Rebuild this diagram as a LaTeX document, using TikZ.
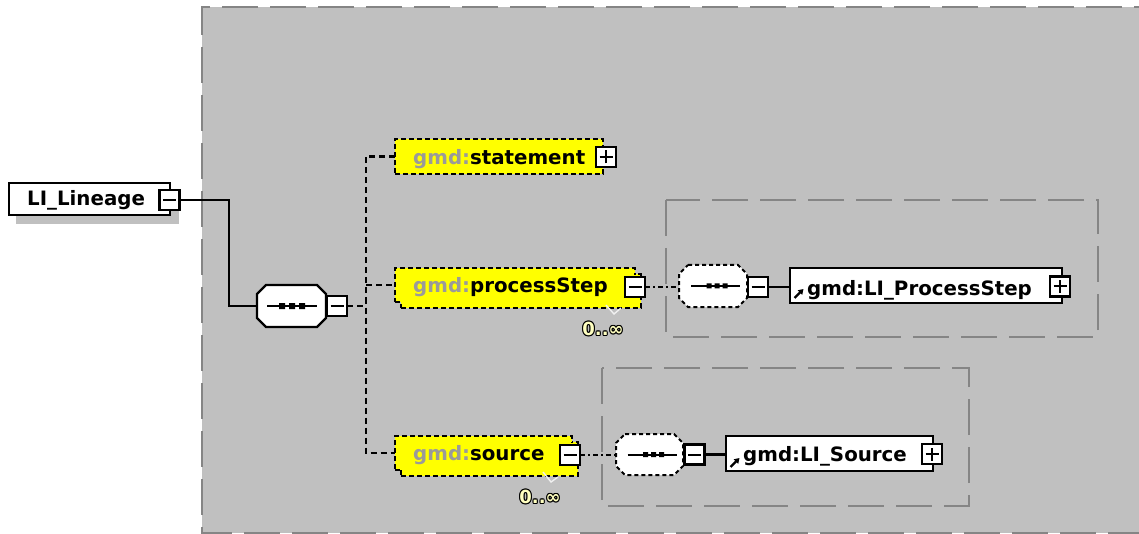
\documentclass[tikz,border=0pt]{standalone}
\usepackage{fontspec}
\newfontfamily\dv{DejaVu Sans}
\usetikzlibrary{calc,arrows.meta}
\definecolor{bggray}{HTML}{C0C0C0}
\definecolor{grpgray}{HTML}{858585}
\definecolor{gmdgray}{HTML}{9A9A9A}
\definecolor{elyellow}{HTML}{FFFF00}
\definecolor{cardyellow}{HTML}{FFFFC0}
\definecolor{markwhite}{HTML}{F0F0F0}
\newcommand\seqoct[3]{%
  \draw[#1] ($(#2.north west)+(#3,0)$) -- ($(#2.north east)+(-#3,0)$) -- ($(#2.north east)+(0,#3)$) -- ($(#2.south east)+(0,-#3)$) -- ($(#2.south east)+(-#3,0)$) -- ($(#2.south west)+(#3,0)$) -- ($(#2.south west)+(0,-#3)$) -- ($(#2.north west)+(0,#3)$) -- cycle;}
\newcommand\outlinedtext[1]{\leavevmode\rlap{\color{black}\raisebox{1pt}{#1}}\rlap{\color{black}\raisebox{-1pt}{#1}}\rlap{\color{black}\hspace{1pt}#1}\rlap{\color{black}\hspace{-1pt}#1}\rlap{\color{black}\hspace{0.7pt}\raisebox{0.7pt}{#1}}\rlap{\color{black}\hspace{-0.7pt}\raisebox{-0.7pt}{#1}}\rlap{\color{black}\hspace{0.7pt}\raisebox{-0.7pt}{#1}}\rlap{\color{black}\hspace{-0.7pt}\raisebox{0.7pt}{#1}}{\color{cardyellow}#1}}
\tikzset{
  boxbase/.style={rectangle, inner sep=0pt, outer sep=0pt},
  typebox/.style={boxbase, draw=black, line width=2.4pt, fill=white},
  optbox/.style={boxbase, draw=black, line width=2.2pt, dash pattern=on 5pt off 3pt, fill=elyellow},
  togglebox/.style={boxbase, draw=black, line width=2.3pt, fill=white, minimum width=20pt, minimum height=20pt},
  minusbox/.style={togglebox, path picture={\draw[line width=2pt] ([xshift=-6.5pt]path picture bounding box.center) -- ([xshift=6.5pt]path picture bounding box.center);}},
  plusbox/.style={togglebox, path picture={\draw[line width=2pt] ([xshift=-6.5pt]path picture bounding box.center) -- ([xshift=6.5pt]path picture bounding box.center) ([yshift=-6.5pt]path picture bounding box.center) -- ([yshift=6.5pt]path picture bounding box.center);}},
  grpbox/.style={draw=grpgray, line width=2.2pt, dash pattern=on 36pt off 12pt},
  solidconn/.style={draw=black, line width=2.2pt},
  dashconn/.style={draw=black, line width=2.1pt, dash pattern=on 6pt off 4pt},
  dotconn/.style={draw=black, line width=2pt, dash pattern=on 5pt off 3pt on 2pt off 3pt},
  eltext/.style={font=\dv\bfseries\fontsize{19.8}{20}\selectfont, inner sep=0pt, anchor=base west},
  cardtext/.style={font=\dv\bfseries\fontsize{18}{18}\selectfont, inner sep=0pt},
  iconarrow/.style={line width=2.2pt, -{Triangle[length=5pt,width=6pt]}},
}
\begin{document}
\begin{tikzpicture}[x=1pt,y=-1pt]
\fill[white] (0,0) rectangle (1139,534);
\useasboundingbox (0,0) rectangle (1139,534);
% background group
\fill[bggray] (202,7) rectangle (1170,533);
\draw[grpbox] (1170,7) -- (202,7) -- (202,533) -- (1170,533);
\draw[grpbox] (666,200) rectangle (1098,337);
\draw[grpbox] (602,368) rectangle (969,506);

% LI_Lineage
\fill[bggray] (16,190) rectangle (179,224);
\node[typebox, minimum width=161pt, minimum height=32pt] (lin) at (89.5,199) {};
\node[eltext] (lintxt) at (27,206) {LI\_Lineage};
\node[minusbox] (linm) at (169.5,200) {};

% sequence 1
\node[boxbase, minimum width=69pt, minimum height=42pt] (seq1) at (291.5,306) {};
\seqoct{fill=white, draw=black, line width=2.3pt}{seq1}{9}
\draw[line width=2pt] ($(seq1.center)+(-24.5,0)$) -- ($(seq1.center)+(25.5,0)$);
\fill ($(seq1.center)+(-12.5,-3)$) rectangle +(6,6) ($(seq1.center)+(-2.5,-3)$) rectangle +(6,6) ($(seq1.center)+(7.5,-3)$) rectangle +(6,6);
\node[minusbox] (seq1m) at (337,306) {};

% statement
\node[optbox, minimum width=208pt, minimum height=35pt] (stmt) at (499,156.5) {};
\node[eltext] (stmttxt) at (413,165) {\textcolor{gmdgray}{gmd:}statement};
\node[plusbox] (stmtp) at (606,157) {};

% processStep
\node[optbox, minimum width=240pt, minimum height=34pt] (psb) at (521,291) {};
\node[optbox, minimum width=240pt, minimum height=34pt] (psf) at (515,285) {};
\fill[elyellow] ([shift={(1.4,1.4)}]psb.north west) rectangle ([shift={(-1.4,-1.4)}]psb.south east);
\fill[elyellow] ([shift={(1.4,1.4)}]psf.north west) rectangle ([shift={(-1.4,-1.4)}]psf.south east);
\node[eltext] (pstxt) at (413,292) {\textcolor{gmdgray}{gmd:}processStep};
\node[minusbox] (psm) at (635,287) {};
\draw[markwhite, line width=1.4pt] (606,305) -- (614,314) -- (621,308);
\node[cardtext] (pscard) at (603,329) {\outlinedtext{0..∞}};

% sequence 2
\node[boxbase, minimum width=68pt, minimum height=42pt] (seq2) at (713,286) {};
\seqoct{fill=white, draw=black, line width=2pt, dash pattern=on 4pt off 3pt}{seq2}{9}
\draw[line width=2pt] ($(seq2.center)+(-22,0)$) -- ($(seq2.center)+(27,0)$);
\fill ($(seq2.center)+(-6.5,-2.5)$) rectangle +(5,5) ($(seq2.center)+(1.5,-2.5)$) rectangle +(5,5) ($(seq2.center)+(9.5,-2.5)$) rectangle +(5,5);
\node[minusbox] (seq2m) at (758,287) {};

% LI_ProcessStep
\node[typebox, minimum width=272pt, minimum height=35pt] (lps) at (926,285.5) {};
\node[eltext] (lpstxt) at (807,295) {gmd:LI\_ProcessStep};
\coordinate (lpsa1) at (794.5,298);
\coordinate (lpsa2) at (803.5,289);
\draw[iconarrow] (lpsa1) -- (lpsa2);
\node[plusbox] (lpsp) at (1060,286.5) {};

% source
\node[optbox, minimum width=177pt, minimum height=34pt] (srcb) at (489.5,459) {};
\node[optbox, minimum width=177pt, minimum height=34pt] (srcf) at (483.5,453) {};
\fill[elyellow] ([shift={(1.4,1.4)}]srcb.north west) rectangle ([shift={(-1.4,-1.4)}]srcb.south east);
\fill[elyellow] ([shift={(1.4,1.4)}]srcf.north west) rectangle ([shift={(-1.4,-1.4)}]srcf.south east);
\node[eltext] (srctxt) at (413,460) {\textcolor{gmdgray}{gmd:}source};
\node[minusbox] (srcm) at (570,455) {};
\draw[markwhite, line width=1.4pt] (543,472) -- (551,482) -- (558,477);
\node[cardtext] (srccard) at (540,497) {\outlinedtext{0..∞}};

% sequence 3
\node[boxbase, minimum width=67pt, minimum height=41pt] (seq3) at (649.5,454.5) {};
\seqoct{fill=white, draw=black, line width=2pt, dash pattern=on 4pt off 3pt}{seq3}{9}
\draw[line width=2pt] ($(seq3.center)+(-22,0)$) -- ($(seq3.center)+(27,0)$);
\fill ($(seq3.center)+(-6.5,-2.5)$) rectangle +(5,5) ($(seq3.center)+(1.5,-2.5)$) rectangle +(5,5) ($(seq3.center)+(9.5,-2.5)$) rectangle +(5,5);
\node[minusbox] (seq3m) at (694.5,454.5) {};

% LI_Source
\node[typebox, minimum width=207pt, minimum height=35pt] (lsrc) at (829.5,453.5) {};
\node[eltext] (lsrctxt) at (743,461) {gmd:LI\_Source};
\coordinate (lsrca1) at (730.5,467);
\coordinate (lsrca2) at (739.5,458);
\draw[iconarrow] (lsrca1) -- (lsrca2);
\node[plusbox] (lsrcp) at (932,454) {};

% connectors
\coordinate (j0) at (229,200);
\coordinate (jx) at (366,306);
\draw[solidconn] (linm.east) -- (j0) |- (seq1.west);
\draw[dashconn] (seq1m.east) -- (jx);
\draw[dashconn] (stmt.west) -| (jx) |- (srcf.west);
\draw[dashconn] (jx |- psf.west) -- (psf.west);
\draw[dotconn] (psm.east) -- (psm.east -| seq2.west);
\draw[dotconn] (srcm.east) -- (srcm.east -| seq3.west);
\draw[solidconn] (seq2m.east) -- (seq2m.east -| lps.west);
\draw[solidconn] (seq3m.east) -- (seq3m.east -| lsrc.west);
\end{tikzpicture}
\end{document}
